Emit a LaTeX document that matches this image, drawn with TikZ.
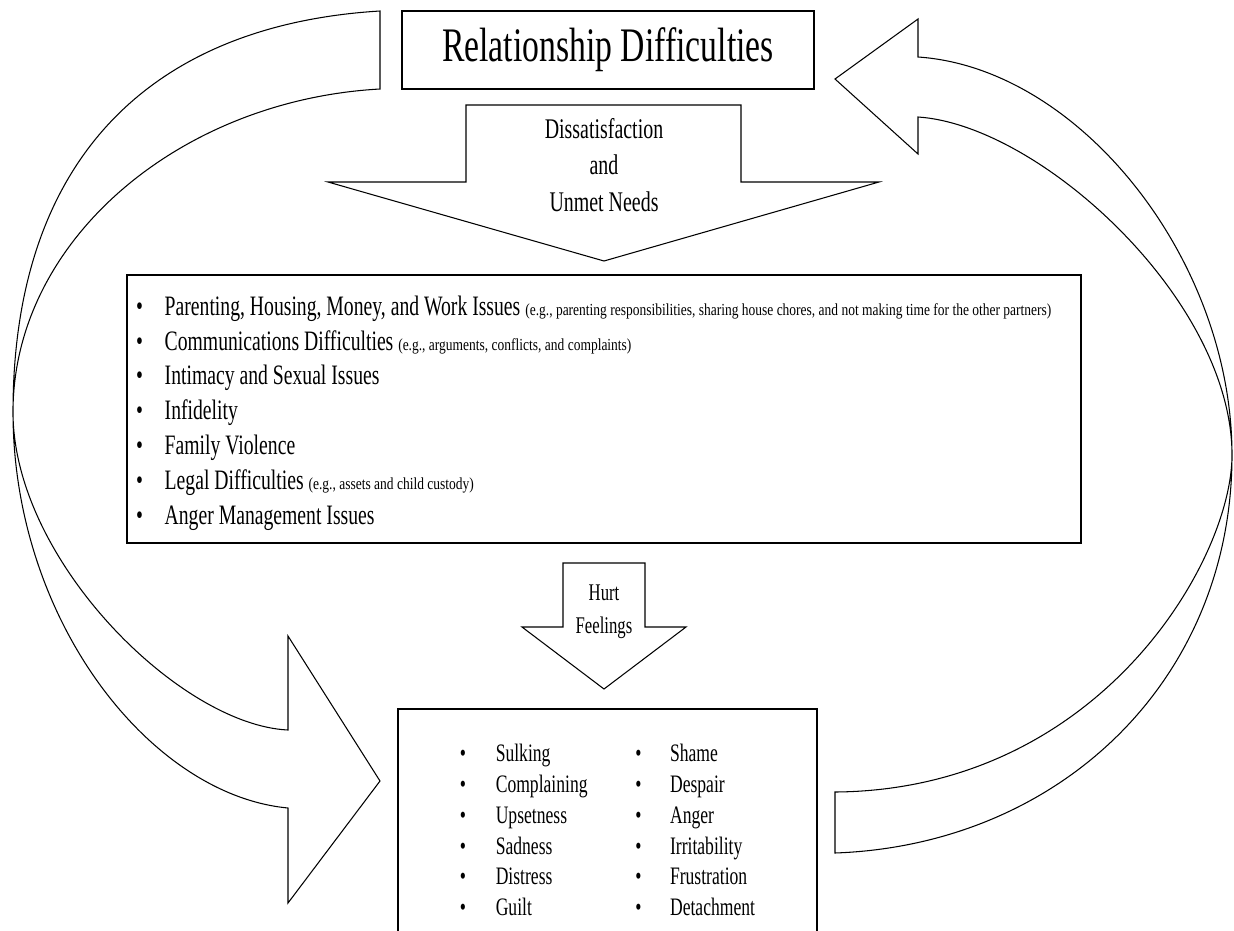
\documentclass[tikz,border=0pt]{standalone}
\usepackage{fontspec}
\setmainfont{Liberation Serif}[FakeStretch=0.7]
\newfontfamily\notefont{Liberation Serif}[FakeStretch=0.8]
\usepackage{tikz}
\usetikzlibrary{positioning}

\newcommand{\eg}[1]{{\notefont\fontsize{9.6}{11}\selectfont #1}}
\newcommand{\bul}[1][16.2pt]{\makebox[#1][l]{\textbullet}}

\begin{document}
\begin{tikzpicture}[x=0.02cm, y=-0.02cm,
  frame/.style={draw, line width=0.8pt, inner sep=0pt},
  outline/.style={draw, line width=0.6pt, line join=miter},
  lbl/.style={align=center, inner sep=0pt},
  lst/.style={align=left, inner sep=0pt, anchor=west},
]
  \useasboundingbox (0,0) rectangle (1234,930);

  % Title box
  \node[frame, minimum width=8.24cm, minimum height=1.56cm,
        font=\fontsize{27.4}{32}\selectfont] (title) at (608,50)
        {Relationship Difficulties};

  % Down arrow: dissatisfaction
  \draw[outline] (466,105) -- (741,105) -- (741,182) -- (879,182)
    -- (604,261) -- (328,182) -- (466,182) -- cycle;
  \node[lbl, font=\fontsize{16.2}{20.7}\selectfont] (unmet) at (604,165)
    {Dissatisfaction\\and\\Unmet Needs};

  % Issues box
  \node[frame, minimum width=19.08cm, minimum height=5.36cm] (issues) at (604,409) {};
  \node[lst, font=\fontsize{16}{19.8}\selectfont] (issuelist)
    at ([xshift=0.19cm, yshift=-0.08cm]issues.west) {%
    \bul Parenting, Housing, Money, and Work Issues \eg{(e.g., parenting responsibilities, sharing house chores, and not making time for the other partners)}\\
    \bul Communications Difficulties \eg{(e.g., arguments, conflicts, and complaints)}\\
    \bul Intimacy and Sexual Issues\\
    \bul Infidelity\\
    \bul Family Violence\\
    \bul Legal Difficulties \eg{(e.g., assets and child custody)}\\
    \bul Anger Management Issues};

  % Down arrow: hurt feelings
  \draw[outline] (563,563) -- (645,563) -- (645,627) -- (686,627)
    -- (604,689) -- (522,627) -- (563,627) -- cycle;
  \node[lbl, font=\fontsize{13.6}{18.7}\selectfont] (hurt) at (604,612)
    {Hurt\\Feelings};

  % Feelings box (runs off the bottom)
  \node[frame, minimum width=8.38cm, minimum height=4.84cm, align=left,
        font=\fontsize{14.3}{17.6}\selectfont] (feelings) at (607.5,830) {%
    \bul[20.4pt]\makebox[79.4pt][l]{Sulking}\bul[19.8pt]Shame\\
    \bul[20.4pt]\makebox[79.4pt][l]{Complaining}\bul[19.8pt]Despair\\
    \bul[20.4pt]\makebox[79.4pt][l]{Upsetness}\bul[19.8pt]Anger\\
    \bul[20.4pt]\makebox[79.4pt][l]{Sadness}\bul[19.8pt]Irritability\\
    \bul[20.4pt]\makebox[79.4pt][l]{Distress}\bul[19.8pt]Frustration\\
    \bul[20.4pt]\makebox[79.4pt][l]{Guilt}\bul[19.8pt]Detachment};

  % Curved arrow on the left: title -> feelings
  \draw[outline] (380,11) .. controls (150,25) and (13,160) .. (13,412)
    .. controls (13,620) and (150,795) .. (288,808) -- (288,903)
    -- (380,781) -- (288,636) -- (288,730)
    .. controls (180,725) and (13,560) .. (13,412)
    .. controls (13,240) and (180,100) .. (380,89) -- cycle;

  % Curved arrow on the right: feelings -> title
  \draw[outline] (835,79) -- (918,19) -- (918,57)
    .. controls (1080,68) and (1232,260) .. (1232,455)
    .. controls (1232,680) and (1060,845) .. (835,853) -- (835,792)
    .. controls (1100,790) and (1232,560) .. (1232,455)
    .. controls (1232,300) and (1040,125) .. (918,117) -- (918,154) -- cycle;
\end{tikzpicture}
\end{document}
